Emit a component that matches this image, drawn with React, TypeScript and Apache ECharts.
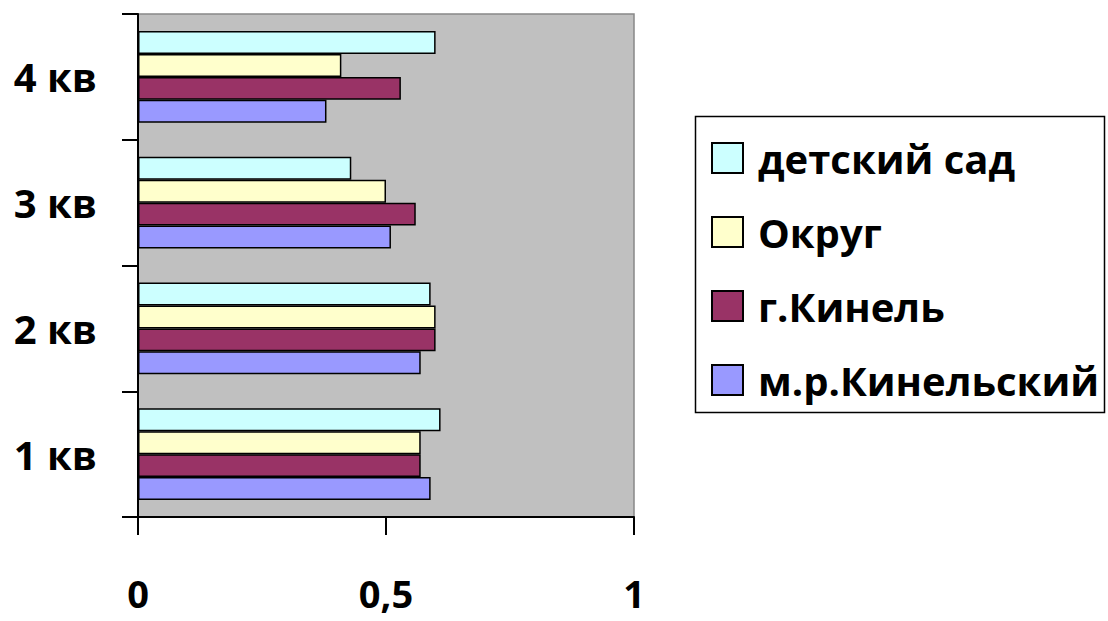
import React, { useEffect, useRef } from "react";
import * as echarts from "echarts";

const categories = ["1 кв", "2 кв", "3 кв", "4 кв"];
const seriesNames = ["детский сад", "Округ", "г.Кинель", "м.р.Кинельский"];
const detskiySad = [0.61, 0.59, 0.43, 0.6];
const okrug = [0.57, 0.6, 0.5, 0.41];
const gKinel = [0.57, 0.6, 0.56, 0.53];
const mrKinelsky = [0.59, 0.57, 0.51, 0.38];
const xTicks = { min: 0, max: 1, interval: 0.5 };

const colors = ["#ccffff", "#ffffcc", "#993366", "#9999ff"];
const values = [detskiySad, okrug, gKinel, mrKinelsky];
const FONT = "'Open Sans', 'DejaVu Sans', sans-serif";

export default function App() {
  const ref = useRef<HTMLDivElement>(null);
  useEffect(() => {
    if (!ref.current) return;
    const chart = echarts.init(ref.current, null, { renderer: "svg" });
    chart.setOption({
      animation: false,
      backgroundColor: "#ffffff",
      grid: {
        left: 138,
        right: 474,
        top: 14,
        bottom: 104,
        show: true,
        backgroundColor: "#c0c0c0",
        borderColor: "#888888",
        borderWidth: 1.5,
      },
      xAxis: {
        type: "value",
        min: xTicks.min,
        max: xTicks.max,
        interval: xTicks.interval,
        splitLine: { show: false },
        axisLine: { show: true, lineStyle: { color: "#000", width: 2 } },
        axisTick: { show: true, length: 18, lineStyle: { color: "#000", width: 2 } },
        axisLabel: {
          margin: 57,
          fontFamily: FONT,
          fontWeight: "bold",
          fontSize: 38,
          lineHeight: 38,
          color: "#000",
          formatter: (v: number) => String(v).replace(".", ","),
        },
      },
      yAxis: {
        type: "category",
        data: categories,
        axisLine: { show: true, lineStyle: { color: "#000", width: 2 } },
        axisTick: { show: true, length: 16, lineStyle: { color: "#000", width: 2 } },
        axisLabel: {
          margin: 41,
          fontFamily: FONT,
          fontWeight: "bold",
          fontSize: 40,
          color: "#000",
        },
      },
      legend: {
        orient: "vertical",
        left: 711,
        top: 138,
        itemWidth: 31,
        itemHeight: 30,
        itemGap: 34,
        padding: 0,
        data: seriesNames,
        icon: "rect",
        textStyle: {
          fontFamily: FONT,
          fontWeight: "bold",
          fontSize: 40,
          color: "#000",
          padding: [0, 0, 0, 10],
        },
      },
      graphic: [
        {
          type: "rect",
          z: -1,
          shape: { x: 695.5, y: 116.5, width: 409, height: 296 },
          style: { fill: "#ffffff", stroke: "#000", lineWidth: 1.5 },
        },
      ],
      series: seriesNames.map((name, i) => ({
        name,
        type: "bar",
        data: values[i],
        barGap: "0%",
        barCategoryGap: "27%",
        itemStyle: { color: colors[i], borderColor: "#000", borderWidth: 1.5 },
      })),
    });
    return () => chart.dispose();
  }, []);
  return (
    <div
      ref={ref}
      style={{ position: "absolute", left: 0, top: 0, width: 1108, height: 621 }}
    />
  );
}
